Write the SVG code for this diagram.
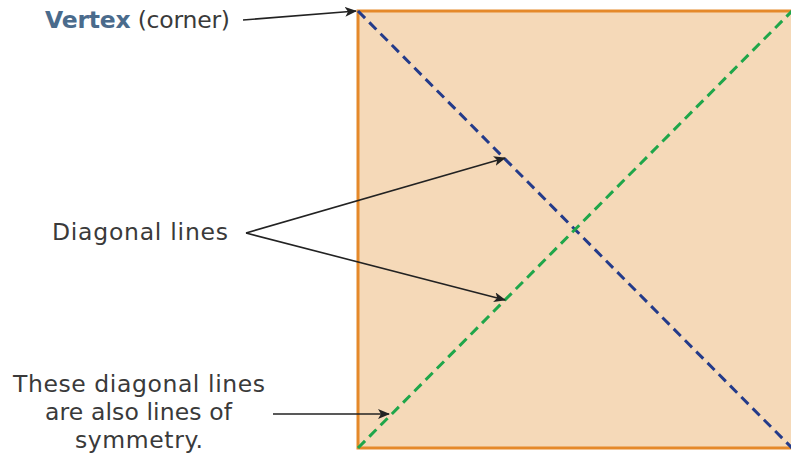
<svg xmlns="http://www.w3.org/2000/svg" width="791" height="457" viewBox="0 0 791 457">
<defs>
<marker id="ah" markerWidth="12" markerHeight="10" refX="11" refY="5" orient="auto" markerUnits="userSpaceOnUse">
<path d="M0,0 L12,5 L0,10 L3,5 Z" fill="#222"/>
</marker>
<style>
.t{font-family:"DejaVu Sans","Liberation Sans",Arial,sans-serif;font-size:23.5px;fill:#3a3a3a}
.b{font-weight:bold;fill:#4a6b8c}
.c{stroke:#222;stroke-width:1.6;fill:none;marker-end:url(#ah)}
</style>
</defs>
<rect width="791" height="457" fill="#fff"/>
<g id="square">
<rect x="358" y="11" width="450" height="437" fill="#f5d9b8" stroke="#e5892a" stroke-width="3"/>
<line x1="358" y1="11" x2="792" y2="448" stroke="#243b8a" stroke-width="3" stroke-dasharray="10,6"/>
<line x1="358" y1="448" x2="792" y2="11" stroke="#1fa64a" stroke-width="3" stroke-dasharray="10,6"/>
</g>
<g id="label-vertex">
<text class="t" x="45" y="28" textLength="185" lengthAdjust="spacing"><tspan class="b">Vertex</tspan> (corner)</text>
</g>
<g id="label-diagonal">
<text class="t" x="52" y="240" textLength="176" lengthAdjust="spacing">Diagonal lines</text>
</g>
<g id="label-symmetry">
<text class="t" x="13" y="392" textLength="252" lengthAdjust="spacing">These diagonal lines</text>
<text class="t" x="45" y="420" textLength="187" lengthAdjust="spacing">are also lines of</text>
<text class="t" x="75" y="448" textLength="128" lengthAdjust="spacing">symmetry.</text>
</g>
<g id="connectors">
<line class="c" x1="243" y1="20" x2="356" y2="11"/>
<line class="c" x1="246" y1="233" x2="505" y2="158"/>
<line class="c" x1="246" y1="233" x2="505" y2="300"/>
<line class="c" x1="273" y1="414" x2="389" y2="414"/>
</g>
</svg>
